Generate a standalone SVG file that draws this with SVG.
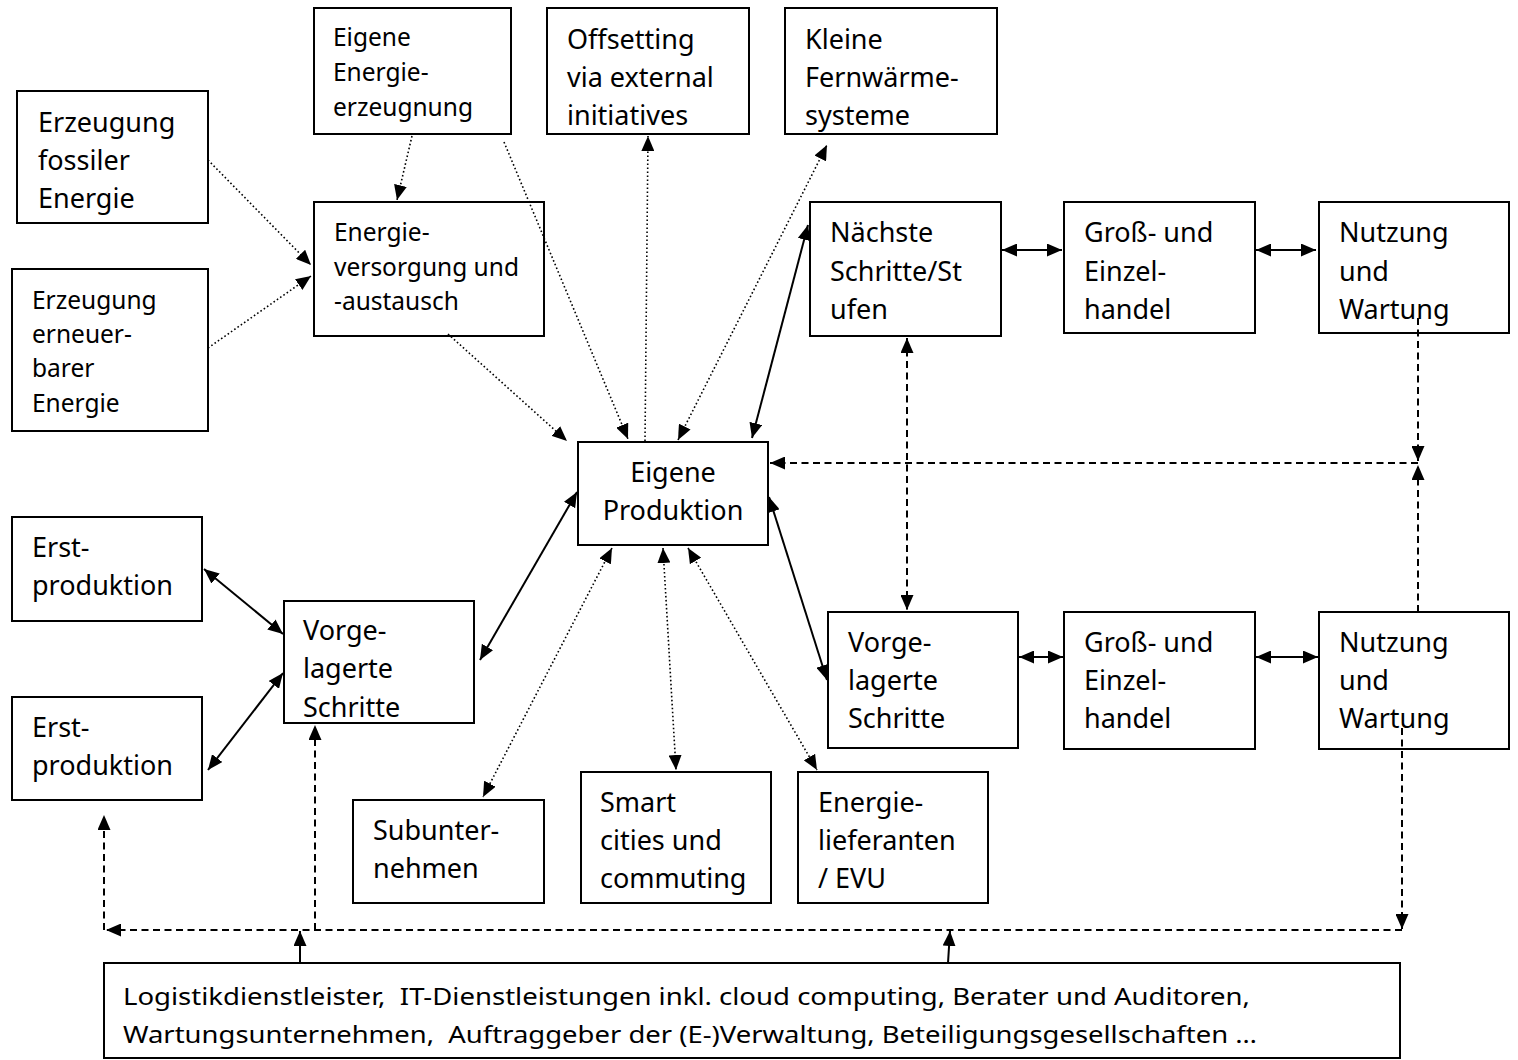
<svg xmlns="http://www.w3.org/2000/svg" width="1518" height="1060" viewBox="0 0 1518 1060">
<style>
  .box { fill: #fff; stroke: #000; stroke-width: 2; }
  .t { font-family: "Noto Sans", "Open Sans", "DejaVu Sans", sans-serif; font-size: 27px; fill: #000; }
  .s { font-family: "Noto Sans", "Open Sans", "DejaVu Sans", sans-serif; font-size: 24.5px; fill: #000; }
  .b { font-family: "Noto Sans", "Open Sans", "DejaVu Sans", sans-serif; font-size: 23px; fill: #000; white-space: pre; }
  .solid { fill: none; stroke: #000; stroke-width: 2; }
  .dot { fill: none; stroke: #000; stroke-width: 1.6; stroke-dasharray: 1.6 2.4; }
  .dash { fill: none; stroke: #000; stroke-width: 2; stroke-dasharray: 7 4.5; }
</style>
<defs>
  <marker id="ah" markerUnits="userSpaceOnUse" markerWidth="15" markerHeight="13" refX="15" refY="6.5" orient="auto-start-reverse">
    <path d="M0,0 L15,6.5 L0,13 z" fill="#000"/>
  </marker>
</defs>
<rect width="1518" height="1060" fill="#fff"/>

<g id="n-fossil"><rect class="box" x="17" y="91" width="191" height="132"/>
  <text class="t" x="38"><tspan x="38" y="132">Erzeugung</tspan><tspan x="38" y="170">fossiler</tspan><tspan x="38" y="208">Energie</tspan></text></g>
<g id="n-erneuerbar"><rect class="box" x="12" y="269" width="196" height="162"/>
  <text class="s"><tspan x="32" y="309">Erzeugung</tspan><tspan x="32" y="343">erneuer-</tspan><tspan x="32" y="377">barer</tspan><tspan x="32" y="412">Energie</tspan></text></g>
<g id="n-eigene-energie"><rect class="box" x="314" y="8" width="197" height="126"/>
  <text class="s"><tspan x="333" y="46">Eigene</tspan><tspan x="333" y="81">Energie-</tspan><tspan x="333" y="116">erzeugnung</tspan></text></g>
<g id="n-offsetting"><rect class="box" x="547" y="8" width="202" height="126"/>
  <text class="t"><tspan x="567" y="49">Offsetting</tspan><tspan x="567" y="87">via external</tspan><tspan x="567" y="125">initiatives</tspan></text></g>
<g id="n-fernwaerme"><rect class="box" x="785" y="8" width="212" height="126"/>
  <text class="t"><tspan x="805" y="49">Kleine</tspan><tspan x="805" y="87">Fernwärme-</tspan><tspan x="805" y="125">systeme</tspan></text></g>
<g id="n-energieversorgung"><rect class="box" x="314" y="202" width="230" height="134"/>
  <text class="s"><tspan x="334" y="241">Energie-</tspan><tspan x="334" y="276">versorgung und</tspan><tspan x="334" y="310">-austausch</tspan></text></g>
<g id="n-produktion"><rect class="box" x="578" y="442" width="190" height="103"/>
  <text class="t" text-anchor="middle"><tspan x="673" y="482">Eigene</tspan><tspan x="673" y="520">Produktion</tspan></text></g>
<g id="n-naechste"><rect class="box" x="810" y="202" width="191" height="134"/>
  <text class="t"><tspan x="830" y="242">Nächste</tspan><tspan x="830" y="281">Schritte/St</tspan><tspan x="830" y="319">ufen</tspan></text></g>
<g id="n-handel-top"><rect class="box" x="1064" y="202" width="191" height="131"/>
  <text class="t"><tspan x="1084" y="242">Groß- und</tspan><tspan x="1084" y="281">Einzel-</tspan><tspan x="1084" y="319">handel</tspan></text></g>
<g id="n-nutzung-top"><rect class="box" x="1319" y="202" width="190" height="131"/>
  <text class="t"><tspan x="1339" y="242">Nutzung</tspan><tspan x="1339" y="281">und</tspan><tspan x="1339" y="319">Wartung</tspan></text></g>
<g id="n-erst-1"><rect class="box" x="12" y="517" width="190" height="104"/>
  <text class="t"><tspan x="32" y="557">Erst-</tspan><tspan x="32" y="595">produktion</tspan></text></g>
<g id="n-erst-2"><rect class="box" x="12" y="697" width="190" height="103"/>
  <text class="t"><tspan x="32" y="737">Erst-</tspan><tspan x="32" y="775">produktion</tspan></text></g>
<g id="n-vorgelagert-left"><rect class="box" x="284" y="601" width="190" height="122"/>
  <text class="t"><tspan x="303" y="640">Vorge-</tspan><tspan x="303" y="678">lagerte</tspan><tspan x="303" y="717">Schritte</tspan></text></g>
<g id="n-subunternehmen"><rect class="box" x="353" y="800" width="191" height="103"/>
  <text class="t"><tspan x="373" y="840">Subunter-</tspan><tspan x="373" y="878">nehmen</tspan></text></g>
<g id="n-smart"><rect class="box" x="581" y="772" width="190" height="131"/>
  <text class="t"><tspan x="600" y="812">Smart</tspan><tspan x="600" y="850">cities und</tspan><tspan x="600" y="888">commuting</tspan></text></g>
<g id="n-evu"><rect class="box" x="798" y="772" width="190" height="131"/>
  <text class="t"><tspan x="818" y="812">Energie-</tspan><tspan x="818" y="850">lieferanten</tspan><tspan x="818" y="888">/ EVU</tspan></text></g>
<g id="n-vorgelagert-right"><rect class="box" x="828" y="612" width="190" height="136"/>
  <text class="t"><tspan x="848" y="652">Vorge-</tspan><tspan x="848" y="690">lagerte</tspan><tspan x="848" y="728">Schritte</tspan></text></g>
<g id="n-handel-bottom"><rect class="box" x="1064" y="612" width="191" height="137"/>
  <text class="t"><tspan x="1084" y="652">Groß- und</tspan><tspan x="1084" y="690">Einzel-</tspan><tspan x="1084" y="728">handel</tspan></text></g>
<g id="n-nutzung-bottom"><rect class="box" x="1319" y="612" width="190" height="137"/>
  <text class="t"><tspan x="1339" y="652">Nutzung</tspan><tspan x="1339" y="690">und</tspan><tspan x="1339" y="728">Wartung</tspan></text></g>
<g id="n-dienstleister"><rect class="box" x="104" y="963" width="1296" height="95"/>
  <text class="b" x="123" y="1005" textLength="1127" lengthAdjust="spacingAndGlyphs">Logistikdienstleister,  IT-Dienstleistungen inkl. cloud computing, Berater und Auditoren,</text>
  <text class="b" x="123" y="1043" textLength="1134" lengthAdjust="spacingAndGlyphs">Wartungsunternehmen,  Auftraggeber der (E-)Verwaltung, Beteiligungsgesellschaften …</text></g>

<g id="connectors">
  <!-- dotted -->
  <path class="dot" d="M208,160 L311,265" marker-end="url(#ah)"/>
  <path class="dot" d="M208,348 L311,276" marker-end="url(#ah)"/>
  <path class="dot" d="M412,136 L397,200" marker-end="url(#ah)"/>
  <path class="dot" d="M504,142 L628,439" marker-end="url(#ah)"/>
  <path class="dot" d="M448,334 L567,441" marker-end="url(#ah)"/>
  <path class="dot" d="M645,441 L648,136" marker-end="url(#ah)"/>
  <path class="dot" d="M678,440 L827,145" marker-start="url(#ah)" marker-end="url(#ah)"/>
  <path class="dot" d="M612,548 L483,797" marker-start="url(#ah)" marker-end="url(#ah)"/>
  <path class="dot" d="M663,548 L676,770" marker-start="url(#ah)" marker-end="url(#ah)"/>
  <path class="dot" d="M688,548 L817,770" marker-start="url(#ah)" marker-end="url(#ah)"/>
  <!-- solid -->
  <path class="solid" d="M752,438 L808,225" marker-start="url(#ah)" marker-end="url(#ah)"/>
  <path class="solid" d="M577,492 L480,660" marker-start="url(#ah)" marker-end="url(#ah)"/>
  <path class="solid" d="M769,497 L827,680" marker-start="url(#ah)" marker-end="url(#ah)"/>
  <path class="solid" d="M204,569 L283,634" marker-start="url(#ah)" marker-end="url(#ah)"/>
  <path class="solid" d="M208,770 L283,673" marker-start="url(#ah)" marker-end="url(#ah)"/>
  <path class="solid" d="M1002,250 L1062,250" marker-start="url(#ah)" marker-end="url(#ah)"/>
  <path class="solid" d="M1256,250 L1316,250" marker-start="url(#ah)" marker-end="url(#ah)"/>
  <path class="solid" d="M1019,657 L1063,657" marker-start="url(#ah)" marker-end="url(#ah)"/>
  <path class="solid" d="M1256,657 L1318,657" marker-start="url(#ah)" marker-end="url(#ah)"/>
  <path class="solid" d="M300,963 L300,931" stroke-width="1.5" marker-end="url(#ah)"/>
  <path class="solid" d="M948,963 L950,931" stroke-width="1.5" marker-end="url(#ah)"/>
  <!-- dashed -->
  <path class="dash" d="M907,338 L907,610" marker-start="url(#ah)" marker-end="url(#ah)"/>
  <path class="dash" d="M1418,318 L1418,461" marker-end="url(#ah)"/>
  <path class="dash" d="M1418,612 L1418,465" marker-end="url(#ah)"/>
  <path class="dash" d="M1418,463 L770,463" marker-end="url(#ah)"/>
  <path class="dash" d="M1402,728 L1402,929" marker-end="url(#ah)"/>
  <path class="dash" d="M1402,930 L106,930" marker-end="url(#ah)"/>
  <path class="dash" d="M104,930 L104,815" marker-end="url(#ah)"/>
  <path class="dash" d="M315,930 L315,725" marker-end="url(#ah)"/>
</g>
</svg>
